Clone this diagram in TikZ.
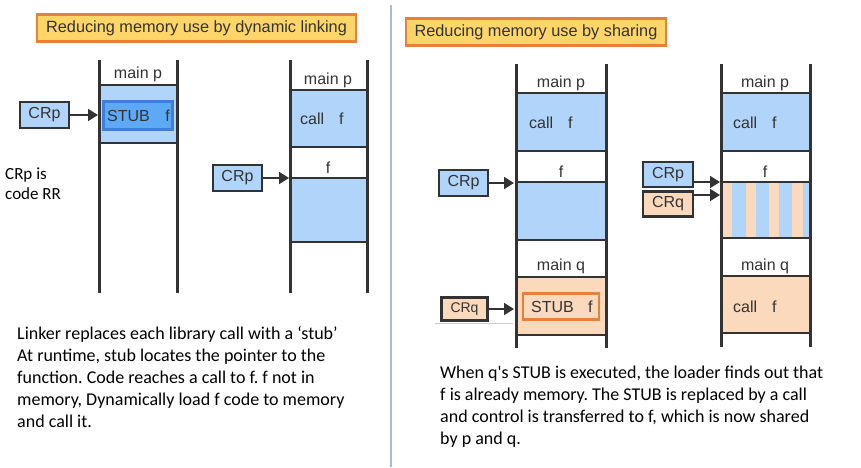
\documentclass[tikz,border=0pt]{standalone}
\usepackage{fontspec}
\setmainfont{Liberation Sans}
\newfontfamily\calib{Carlito}
\usetikzlibrary{arrows.meta}
\frenchspacing
\definecolor{memblue}{HTML}{B1D5FA}
\definecolor{stubblue}{HTML}{5DA9F6}
\definecolor{stubedge}{HTML}{3F7EDF}
\definecolor{peach}{HTML}{FAD9BC}
\definecolor{orng}{HTML}{E8803A}
\definecolor{ttlfill}{HTML}{FDD568}
\definecolor{ink}{HTML}{333333}
\definecolor{divider}{HTML}{A8B8DE}
\tikzset{
  colside/.style={draw=ink, line width=3pt},
  sepline/.style={draw=ink, line width=2.5pt},
  ttl/.style={draw=orng, fill=ttlfill, line width=2.5pt, font=\fontsize{16.3}{18}\selectfont, text=ink, inner sep=0pt, minimum height=27pt},
  lbl/.style={font=\fontsize{16}{18}\selectfont, text=ink, inner sep=0pt},
  crbox/.style={draw=ink, line width=2.5pt, font=\fontsize{16}{18}\selectfont, text=ink, inner sep=0pt, minimum width=49pt, minimum height=26pt},
  stubbox/.style={line width=2.5pt, font=\fontsize{16}{18}\selectfont, text=ink, inner sep=0pt},
  ptr/.style={draw=ink, line width=1.8pt, -{Triangle[length=10pt,width=12pt]}},
  note/.style={font=\calib\fontsize{18}{22}\selectfont, align=left, anchor=north west, inner sep=0pt, text=black},
}
\begin{document}
\begin{tikzpicture}[x=1pt,y=-1pt]
\useasboundingbox (0,0) rectangle (861,467);
% divider
\draw[divider, line width=1.5pt] (391,5) -- (391,467);
% titles
\node[ttl, minimum width=319pt] (t1) at (196.5,28) {Reducing memory use by dynamic linking};
\node[ttl, minimum width=260pt] (t2) at (536,32) {Reducing memory use by sharing};

% ---------- column 1 ----------
\fill[memblue] (99,85) rectangle (177,143);
\draw[sepline] (99,85) -- (177,85) (99,143) -- (177,143);
\draw[colside] (99,60) -- (99,293) (177,60) -- (177,293);
\node[lbl] (c1mp) at (138,74) {main p};
\node[stubbox, draw=stubedge, fill=stubblue, minimum width=69pt, minimum height=28pt] (c1stub) at (138,115.5) {};
\node[lbl, anchor=base west] (c1s) at (107,121) {STUB};
\node[lbl, anchor=base east] (c1f) at (170,121) {f};
\node[crbox, fill=memblue] (c1cr) at (44.5,115) {CRp};
\coordinate (c1in) at (98,115);
\draw[ptr] (c1cr) -- (c1in);
\node[font=\calib\fontsize{17}{20}\selectfont, align=left, anchor=north west, inner sep=0pt] (crnote) at (5,168) {CRp is\\code RR};

% ---------- column 2 ----------
\fill[memblue] (290,90) rectangle (367,147);
\fill[memblue] (290,178) rectangle (367,242);
\draw[sepline] (290,90) -- (367,90) (290,147) -- (367,147) (290,178) -- (367,178) (290,242) -- (367,242);
\draw[colside] (290,60) -- (290,293) (367,60) -- (367,293);
\node[lbl] (c2mp) at (328,80) {main p};
\node[lbl, anchor=base west] (c2call) at (300,124) {call};
\node[lbl, anchor=base west] (c2f0) at (339,124) {f};
\node[lbl] (c2f) at (328,168) {f};
\node[crbox, fill=memblue] (c2cr) at (237.5,178) {CRp};
\coordinate (c2in) at (289,178);
\draw[ptr] (c2cr) -- (c2in);

% ---------- column 3 ----------
\fill[memblue] (516,93) rectangle (606,151);
\fill[memblue] (516,182) rectangle (606,240);
\fill[peach] (516,277) rectangle (606,335);
\draw[sepline] (516,93) -- (606,93) (516,151) -- (606,151) (516,182) -- (606,182) (516,240) -- (606,240) (516,277) -- (606,277) (516,335) -- (606,335);
\draw[colside] (516,64) -- (516,348) (606,64) -- (606,348);
\node[lbl] (c3mp) at (561,83) {main p};
\node[lbl, anchor=base west] (c3call) at (529,128) {call};
\node[lbl, anchor=base west] (c3f0) at (568,128) {f};
\node[lbl] (c3f) at (561,172) {f};
\node[lbl] (c3mq) at (561,266) {main q};
\node[stubbox, draw=orng, fill=peach, minimum width=76pt, minimum height=26pt] (c3stub) at (561,306.5) {};
\node[lbl, anchor=base west] (c3s) at (531,312) {STUB};
\node[lbl, anchor=base west] (c3sf) at (588,312) {f};
\node[crbox, fill=memblue] (c3cr) at (463.5,183) {CRp};
\coordinate (c3in) at (514,183);
\draw[ptr] (c3cr) -- (c3in);
\draw[gray!40, line width=0.6pt] (435,323) -- (513,323);
\node[crbox, fill=peach, minimum width=46pt, minimum height=23pt, font=\fontsize{14}{16}\selectfont] (c3cq) at (464.5,309) {CRq};
\coordinate (c3qin) at (514,309);
\draw[ptr] (c3cq) -- (c3qin);

% ---------- column 4 ----------
\fill[memblue] (721,93) rectangle (810,151);
\fill[peach] (721,182) rectangle (810,238);
\foreach \a/\b in {732/746, 756/769, 779/792, 803/810} {\fill[memblue] (\a,182) rectangle (\b,238);}
\fill[peach] (721,276) rectangle (810,333);
\draw[sepline] (721,93) -- (810,93) (721,151) -- (810,151) (721,182) -- (810,182) (721,238) -- (810,238) (721,276) -- (810,276) (721,333) -- (810,333);
\draw[colside] (721,64) -- (721,347) (810,64) -- (810,347);
\node[lbl] (c4mp) at (765,83) {main p};
\node[lbl, anchor=base west] (c4call) at (733,128) {call};
\node[lbl, anchor=base west] (c4f0) at (772,128) {f};
\node[lbl] (c4f) at (765,172) {f};
\node[lbl] (c4mq) at (765,266) {main q};
\node[lbl, anchor=base west] (c4call2) at (733,312) {call};
\node[lbl, anchor=base west] (c4f2) at (772,312) {f};
\node[crbox, fill=memblue, minimum width=50pt, minimum height=25pt] (c4cr) at (668,174.5) {CRp};
\node[crbox, fill=peach, minimum width=50pt, minimum height=25pt] (c4cq) at (668,204) {CRq};
\coordinate (c4in) at (720,182);
\coordinate (c4qin) at (720,195);
\draw[ptr] (c4cr.east |- c4in) -- (c4in);
\draw[ptr] (c4cq.east |- c4qin) -- (c4qin);

% ---------- notes ----------
\node[note] (n1) at (17,326) {Linker replaces each library call with a ‘stub’\\At runtime, stub locates the pointer to the\\function. Code reaches a call to f. f not in\\memory, Dynamically load f code to memory\\and call it.};
\node[note] (n2) at (440,366) {When q's STUB is executed, the loader finds out that\\f is already memory. The STUB is replaced by a call\\and control is transferred to f, which is now shared\\by p and q.};
\end{tikzpicture}
\end{document}
